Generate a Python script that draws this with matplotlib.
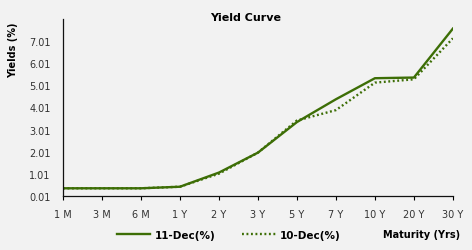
import matplotlib
matplotlib.use('Agg')
import matplotlib.pyplot as plt
from matplotlib.lines import Line2D

maturities = ['1 M', '3 M', '6 M', '1 Y', '2 Y', '3 Y', '5 Y', '7 Y', '10 Y', '20 Y', '30 Y']
dec11 = [0.36, 0.36, 0.36, 0.43, 1.07, 1.97, 3.35, 4.38, 5.33, 5.36, 7.57]
dec10 = [0.36, 0.36, 0.36, 0.43, 1.02, 1.97, 3.42, 3.89, 5.13, 5.28, 7.13]
yticks = [0.01, 1.01, 2.01, 3.01, 4.01, 5.01, 6.01, 7.01]

green = '#3d6e06'
bg = '#f2f2f2'

fig = plt.figure(figsize=(4.72, 2.51), dpi=100, facecolor=bg)
ax = fig.add_axes([0.1335, 0.215, 0.826, 0.705], facecolor=bg)

x = list(range(len(maturities)))
ax.plot(x, dec11, color=green, lw=1.7, solid_joinstyle='round')
ax.plot(x, dec10, color=green, lw=1.7, linestyle=(0, (0.8, 1.1)))

ax.set_xlim(0, len(maturities) - 1)
ax.set_ylim(0.01, 8.0)
ax.set_xticks(x)
ax.set_xticklabels(maturities, fontsize=7, color='#333333')
ax.set_yticks(yticks)
ax.set_yticklabels([f'{v:.2f}' for v in yticks], fontsize=7, color='#333333')
ax.tick_params(axis='y', length=0, pad=9)
ax.tick_params(axis='x', length=3, width=0.8, pad=6, direction='out')

for s in ['top', 'right']:
    ax.spines[s].set_visible(False)
for s in ['left', 'bottom']:
    ax.spines[s].set_color('#111111')
    ax.spines[s].set_linewidth(0.9)

fig.text(0.52, 0.93, 'Yield Curve', ha='center', va='center', fontsize=8, fontweight='bold')
fig.text(0.028, 0.80, 'Yields (%)', ha='center', va='center', rotation=90, fontsize=7, fontweight='bold')
fig.text(0.975, 0.065, 'Maturity (Yrs)', ha='right', va='center', fontsize=7, fontweight='bold')

handles = [Line2D([], [], color=green, lw=1.7),
           Line2D([], [], color=green, lw=1.7, linestyle=(0, (0.8, 1.1)))]
fig.legend(handles, ['11-Dec(%)', '10-Dec(%)'], loc='center', bbox_to_anchor=(0.485, 0.06),
           ncol=2, frameon=False, prop={'size': 7.5, 'weight': 'bold'},
           handlelength=3.2, handletextpad=0.4, columnspacing=2.6)

fig.savefig('out.png', dpi=100, facecolor=bg)
